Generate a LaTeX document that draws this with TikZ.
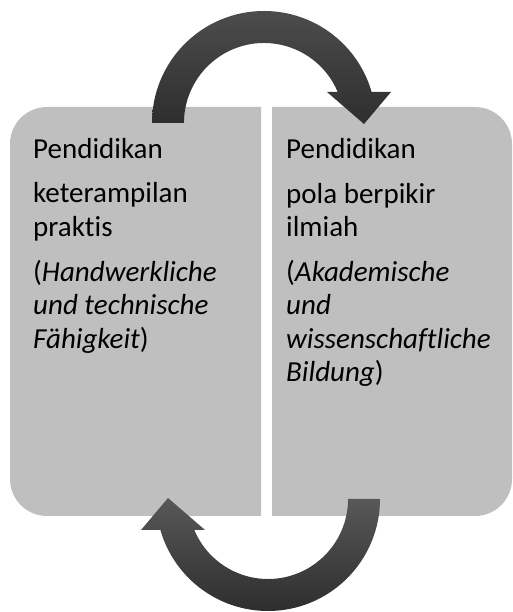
\documentclass[tikz,border=0pt]{standalone}
\usepackage{fontspec}
\setmainfont{Carlito}[Ligatures=NoCommon]
\definecolor{boxgray}{HTML}{BFBFBF}
\definecolor{arrowlight}{HTML}{4C4C4C}
\definecolor{arrowlightb}{HTML}{585858}
\definecolor{arrowdark}{HTML}{2E2E2E}
\begin{document}
\begin{tikzpicture}[x=1pt,y=1pt,
  label text/.style={anchor=base west,inner sep=0pt,font=\fontsize{29}{34}\selectfont,text=black}]
\useasboundingbox (0,0) rectangle (512,612);

% two panels, outer corners rounded
\fill[boxgray] (261,505) [rounded corners=37pt] -- (10,505) -- (10,96) [sharp corners] -- (261,96) -- cycle;
\fill[boxgray] (272,505) [rounded corners=37pt] -- (512,505) -- (512,96) [sharp corners] -- (272,96) -- cycle;

% curved arrow over the top, left panel to right panel
\shade[top color=arrowlight,bottom color=arrowdark]
  (152,489) arc[start angle=180,end angle=16.07,radius=112]
  -- (391,520) -- (364,488) -- (327,520) -- (337.7,520)
  arc[start angle=22.8,end angle=180,radius=80] -- cycle;

% curved arrow underneath, right panel back to left panel
\shade[top color=arrowlightb,bottom color=arrowdark]
  (380,113) arc[start angle=0,end angle=-163.93,radius=112]
  -- (141,82) -- (168,114) -- (205,82) -- (194.3,82)
  arc[start angle=-157.2,end angle=0,radius=80] -- cycle;

% left panel text
\node[label text] (l1) at (33,453) {Pendidikan};
\node[label text] (l2) at (33,409) {keterampilan};
\node[label text] (l3) at (33,375) {praktis};
\node[label text] (l4) at (33,330) {(\textit{Handwerkliche}};
\node[label text] (l5) at (33,297) {\textit{und technische}};
\node[label text] (l6) at (33,263) {\textit{Fähigkeit})};

% right panel text
\node[label text] (r1) at (286,453) {Pendidikan};
\node[label text] (r2) at (286,408) {pola berpikir};
\node[label text] (r3) at (286,375) {ilmiah};
\node[label text] (r4) at (286,330) {(\textit{Akademische}};
\node[label text] (r5) at (286,297) {\textit{und}};
\node[label text] (r6) at (286,263) {\textit{wissenschaftliche}};
\node[label text] (r7) at (286,230) {\textit{Bildung})};
\end{tikzpicture}
\end{document}
